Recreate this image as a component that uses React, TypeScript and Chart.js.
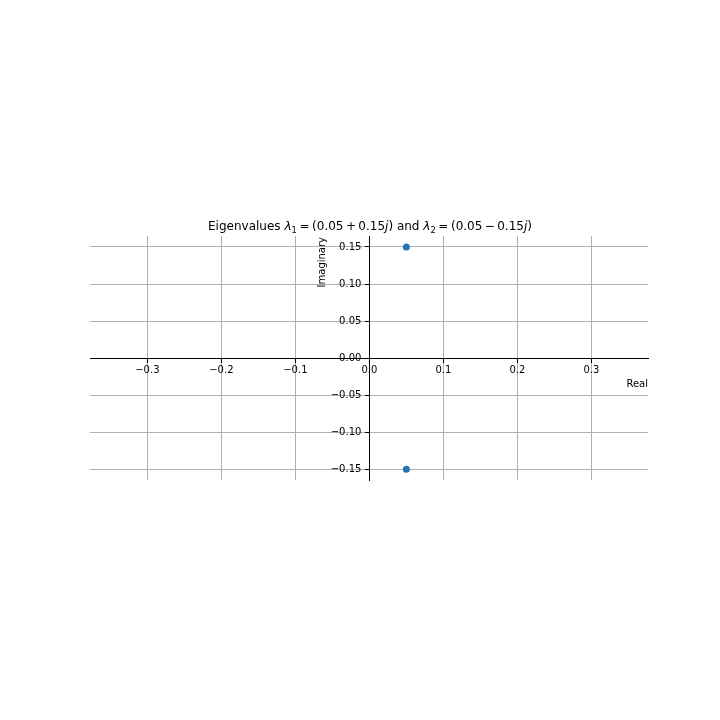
import React, { useEffect, useRef } from "react";
import { Chart, registerables } from "chart.js";

Chart.register(...registerables);

const realParts = [0.05, 0.05];
const imagParts = [0.15, -0.15];
const xTickValues = [-0.3, -0.2, -0.1, 0.0, 0.1, 0.2, 0.3];
const yTickValues = [-0.15, -0.1, -0.05, 0.0, 0.05, 0.1, 0.15];
const xRange = [-0.3775, 0.3765];
const yRange = [-0.1645, 0.1648];
const xLabel = "Real";
const yLabel = "Imaginary";

const FONT = "'DejaVu Sans', sans-serif";

const fmt = (v: number, d: number) => {
  const s = Math.abs(v) < 1e-9 ? (0).toFixed(d) : v.toFixed(d);
  return s.replace("-", "\u2212");
};

type Seg = { t?: string; italic?: boolean; sub?: boolean; gap?: number };
const titleSegments: Seg[] = [
  { t: "Eigenvalues " },
  { t: "λ", italic: true },
  { t: "1", sub: true },
  { gap: 2.6 },
  { t: "=" },
  { gap: 2.6 },
  { t: "(0.05" },
  { gap: 2.4 },
  { t: "+" },
  { gap: 2.4 },
  { t: "0.15" },
  { t: "j", italic: true },
  { t: ")" },
  { t: " and " },
  { t: "λ", italic: true },
  { t: "2", sub: true },
  { gap: 2.6 },
  { t: "=" },
  { gap: 2.6 },
  { t: "(0.05" },
  { gap: 2.4 },
  { t: "\u2212" },
  { gap: 2.4 },
  { t: "0.15" },
  { t: "j", italic: true },
  { t: ")" },
];

const decorPlugin = {
  id: "decor",
  afterDraw(chart: any) {
    const ctx = chart.ctx as CanvasRenderingContext2D;
    const area = chart.chartArea;
    const xs = chart.scales.x;
    const ys = chart.scales.y;
    const x0 = xs.getPixelForValue(0);
    const y0 = ys.getPixelForValue(0);
    ctx.save();
    ctx.fillStyle = "#000";

    // y tick labels (from the y scale's ticks)
    ctx.font = `10px ${FONT}`;
    ctx.textAlign = "right";
    ctx.textBaseline = "middle";
    ys.ticks.forEach((tk: any) => {
      ctx.fillText(fmt(tk.value, 2), x0 - 8, ys.getPixelForValue(tk.value) + 0.5);
    });

    // Title
    const fontFor = (s: Seg) =>
      s.sub ? `8.4px ${FONT}` : `${s.italic ? "italic " : ""}12px ${FONT}`;
    let total = 0;
    const widths = titleSegments.map((s) => {
      if (s.gap !== undefined) {
        total += s.gap;
        return s.gap;
      }
      ctx.font = fontFor(s);
      const w = ctx.measureText(s.t || "").width;
      total += w;
      return w;
    });
    let cx = (area.left + area.right) / 2 - total / 2 + 1;
    const baseY = area.top - 6;
    ctx.textAlign = "left";
    ctx.textBaseline = "alphabetic";
    titleSegments.forEach((s, i) => {
      if (s.t) {
        ctx.font = fontFor(s);
        ctx.fillText(s.t, cx, s.sub ? baseY + 2.5 : baseY);
      }
      cx += widths[i];
    });

    // x label
    ctx.font = `10px ${FONT}`;
    ctx.textAlign = "right";
    ctx.textBaseline = "middle";
    ctx.fillText(xLabel, area.right, y0 + 26);

    // y label
    ctx.translate(x0 - 47, area.top + 1);
    ctx.rotate(-Math.PI / 2);
    ctx.textAlign = "right";
    ctx.textBaseline = "middle";
    ctx.fillText(yLabel, 0, 0);
    ctx.restore();
  },
};

export default function App() {
  const ref = useRef<HTMLCanvasElement | null>(null);
  useEffect(() => {
    if (!ref.current) return;
    const chart = new Chart(ref.current, {
      type: "scatter",
      data: {
        datasets: [
          {
            data: realParts.map((r, i) => ({ x: r, y: imagParts[i] })),
            backgroundColor: "#1f77b4",
            borderWidth: 0,
            pointRadius: 3.5,
            pointHoverRadius: 3.5,
          },
        ],
      },
      options: {
        responsive: false,
        animation: false,
        devicePixelRatio: 1,
        events: [],
        layout: { padding: { left: 90, right: 72, top: 236, bottom: 240 } },
        plugins: {
          legend: { display: false },
          title: { display: false },
          tooltip: { enabled: false },
        },
        scales: {
          x: {
            type: "linear",
            position: { y: 0 } as any,
            min: xRange[0],
            max: xRange[1],
            afterBuildTicks: (axis: any) => {
              axis.ticks = xTickValues.map((v) => ({ value: v }));
            },
            grid: {
              color: "#b0b0b0",
              lineWidth: 1,
              drawTicks: true,
              tickLength: 4,
              tickColor: "#000",
              tickWidth: 1,
            },
            border: { display: true, color: "#000", width: 1 },
            ticks: {
              color: "#000",
              font: { family: FONT, size: 10 },
              padding: 2,
              maxRotation: 0,
              autoSkip: false,
              callback: (v: any) => fmt(Number(v), 1),
            },
          },
          y: {
            type: "linear",
            position: { x: 0 } as any,
            min: yRange[0],
            max: yRange[1],
            afterBuildTicks: (axis: any) => {
              axis.ticks = yTickValues.map((v) => ({ value: v }));
            },
            grid: {
              color: "#b0b0b0",
              lineWidth: 1,
              drawTicks: true,
              tickLength: 4,
              tickColor: "#000",
              tickWidth: 1,
            },
            border: { display: true, color: "#000", width: 1 },
            ticks: {
              display: false,
              autoSkip: false,
            },
          },
        },
      },
      plugins: [decorPlugin],
    });
    return () => chart.destroy();
  }, []);
  return (
    <div style={{ position: "absolute", left: 0, top: 0, width: 720, height: 720, background: "#fff" }}>
      <canvas ref={ref} width={720} height={720} style={{ width: 720, height: 720 }} />
    </div>
  );
}
